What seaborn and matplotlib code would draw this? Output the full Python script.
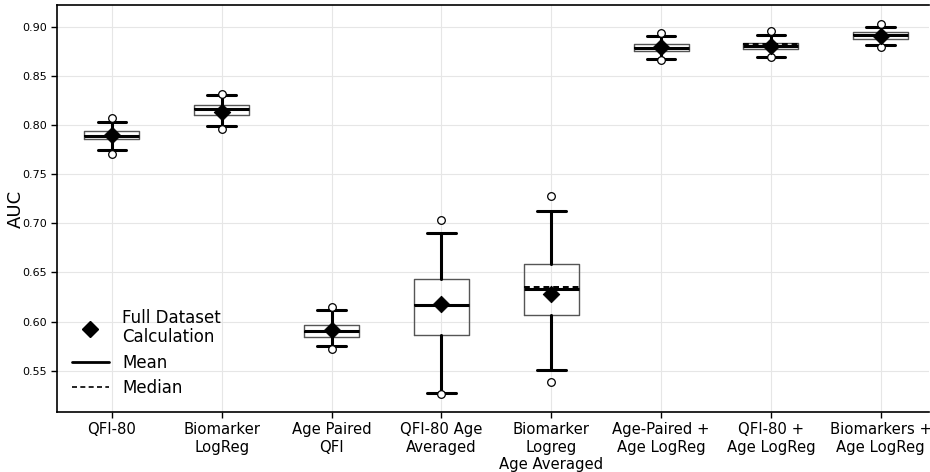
import numpy as np
import pandas as pd
import seaborn as sns
import matplotlib
matplotlib.use("Agg")
import matplotlib.pyplot as plt
from matplotlib.lines import Line2D

categories = ["QFI-80", "Biomarker\nLogReg", "Age Paired\nQFI", "QFI-80 Age\nAveraged",
              "Biomarker\nLogreg\nAge Averaged", "Age-Paired +\nAge LogReg",
              "QFI-80 +\nAge LogReg", "Biomarkers +\nAge LogReg"]
q1 = [0.7856, 0.8103, 0.5843, 0.5867, 0.6067, 0.8753, 0.8770, 0.8878]
q3 = [0.7940, 0.8204, 0.5961, 0.6436, 0.6581, 0.8821, 0.8837, 0.8943]
means = [0.7889, 0.8160, 0.5908, 0.6165, 0.6327, 0.8787, 0.8807, 0.8912]
medians = [0.7889, 0.8158, 0.5898, 0.6165, 0.6347, 0.8787, 0.8827, 0.8912]
whisk_lo = [0.7750, 0.7991, 0.5748, 0.5270, 0.5511, 0.8672, 0.8695, 0.8817]
whisk_hi = [0.8031, 0.8306, 0.6121, 0.6903, 0.7127, 0.8909, 0.8919, 0.9000]
out_lo = [0.7709, 0.7963, 0.5722, 0.5264, 0.5386, 0.8662, 0.8689, 0.8797]
out_hi = [0.8075, 0.8319, 0.6148, 0.7028, 0.7277, 0.8933, 0.8953, 0.9027]
full_dataset = [0.7900, 0.8130, 0.5910, 0.6182, 0.6281, 0.8790, 0.8800, 0.8905]
yticks = [0.55, 0.60, 0.65, 0.70, 0.75, 0.80, 0.85, 0.90]

sns.set_theme(style="whitegrid")
plt.rcParams['font.family'] = ['DejaVu Sans']
plt.rcParams.update({"text.color": "black", "axes.labelcolor": "black",
                     "xtick.color": "black", "ytick.color": "black"})

fig = plt.figure(figsize=(9.3, 4.72), dpi=100)
ax = fig.add_axes([57/930, 1-412/472, 1-57/930-0.001, (412-5)/472])

stats = []
for i in range(len(categories)):
    stats.append(dict(q1=q1[i], q3=q3[i], med=medians[i], mean=means[i],
                      whislo=whisk_lo[i], whishi=whisk_hi[i],
                      fliers=[out_lo[i], out_hi[i]], label=categories[i]))

ax.bxp(stats, positions=np.arange(len(categories)), widths=0.5,
       showmeans=True, meanline=True, showfliers=True,
       boxprops=dict(color="#555555", linewidth=1.0),
       whiskerprops=dict(color="black", linewidth=2.2),
       capprops=dict(color="black", linewidth=2.2),
       capwidths=0.26,
       medianprops=dict(color="black", linewidth=1.4, linestyle=(0, (3, 2))),
       meanprops=dict(color="black", linewidth=2.2, linestyle="-"),
       flierprops=dict(marker="o", markerfacecolor="white", markeredgecolor="black",
                       markersize=5.5, markeredgewidth=0.9))

df = pd.DataFrame({"pos": np.arange(len(categories)), "auc": full_dataset})
sns.scatterplot(data=df, x="pos", y="auc", marker="D", s=70, color="black",
                edgecolor="black", zorder=5, ax=ax, legend=False)

ax.set_xlim(-0.5, 7.44)
ax.set_ylim(0.508, 0.922)
ax.set_xticks(np.arange(len(categories)))
ax.set_xticklabels(categories, fontsize=10.7)
ax.set_yticks(yticks)
ax.set_yticklabels([f"{v:.2f}" for v in yticks], fontsize=8)
ax.set_xlabel("")
ax.set_ylabel("AUC", fontsize=13)
ax.yaxis.set_label_coords(-0.037, 0.5)
ax.grid(True, color="#e6e6e6", linewidth=0.8)
ax.set_axisbelow(True)
for s in ["left", "bottom", "top"]:
    ax.spines[s].set_visible(True)
    ax.spines[s].set_color("black")
    ax.spines[s].set_linewidth(1.2)
ax.spines["right"].set_visible(False)
ax.tick_params(axis="both", direction="out", length=4, width=1, color="black",
               labelcolor="black", bottom=True, left=True)

handles = [Line2D([], [], marker="D", color="black", linestyle="None", markersize=8),
           Line2D([], [], color="black", linewidth=2),
           Line2D([], [], color="black", linewidth=1.2, linestyle=(0, (3, 2)))]
leg = ax.legend(handles, ["Full Dataset\nCalculation", "Mean", "Median"], loc="lower left",
                frameon=False, fontsize=12, handlelength=2.2, borderaxespad=0.5,
                labelspacing=0.45)
for t in leg.get_texts():
    t.set_linespacing(1.05)
    t.set_color("black")

fig.savefig("out.png", dpi=100)
